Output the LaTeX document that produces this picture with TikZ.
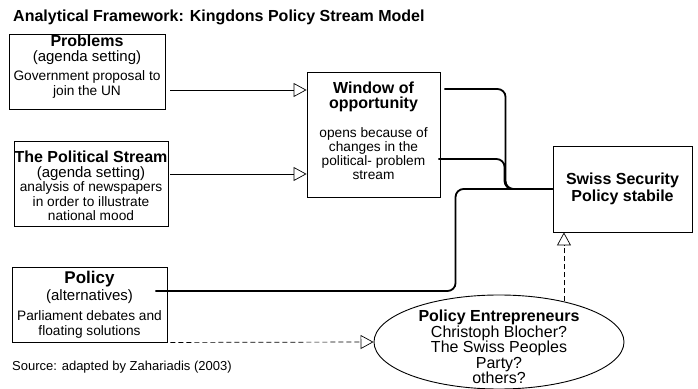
\documentclass[tikz,border=0pt]{standalone}
\usepackage{fontspec}
\setmainfont{Liberation Sans}
\usetikzlibrary{positioning}
\usetikzlibrary{shapes.geometric}
\usetikzlibrary{arrows.meta}
\newcommand{\hd}{\fontsize{16}{14.5}\selectfont\bfseries}
\newcommand{\pr}{\fontsize{15}{14.5}\selectfont}
\newcommand{\bd}{\fontsize{13.7}{14.5}\selectfont}
\newcommand{\bg}{\fontsize{16}{15.5}\selectfont}
\tikzset{
  box/.style={draw, line width=0.9pt, inner sep=0pt},
  txt/.style={align=center, inner sep=0pt, font=\bd},
  flow/.style={line width=1.8pt, rounded corners=8pt},
  arr/.style={line width=0.7pt, -{Triangle[open,length=13pt,width=14pt]}},
  darr/.style={arr, dash pattern=on 5pt off 3pt},
}

\begin{document}
\begin{tikzpicture}[x=1pt,y=1pt]
  \useasboundingbox (0,0) rectangle (698,388);
  \node[anchor=base west, inner sep=0pt] (title) at (13,366)
    {\hd Analytical Framework: Kingdons Policy Stream Model};
  % the three streams
  \node[box, minimum width=156, minimum height=75] (prob) at (87,316.5) {};
  \node[txt, below=1.5pt of prob.north] (probtxt)
    {\hd Problems\\[0.5pt] \pr (agenda setting)\\[4.5pt] Government proposal to\\ join the UN};
  \node[box, minimum width=154, minimum height=85] (polit) at (91,204.5) {};
  \node[txt, below=10.5pt of polit.north] (polittxt)
    {\hd The Political Stream\\ \pr (agenda setting)\\ analysis of newspapers\\ in order to illustrate\\ national mood};
  \node[box, minimum width=155, minimum height=75] (polic) at (89.5,83.5) {};
  \node[txt, below=4pt of polic.north] (polictxt)
    {\fontsize{17}{14.5}\selectfont\bfseries Policy\\[2.5pt] \pr (alternatives)\\[5.5pt] Parliament debates and\\[0.5pt] floating solutions};
  % window and outcome
  \node[box, minimum width=133, minimum height=125] (win) at (373.5,253.5) {};
  \node[txt, font=\fontsize{13.7}{14}\selectfont, below=10.3pt of win.north] (wintxt)
    {\hd Window of\\[0.5pt] \hd opportunity\\[15pt] opens because of\\ changes in the\\ political- problem\\ stream};
  \node[box, txt, minimum width=139, minimum height=86] (swiss) at (622.5,199)
    {\hd Swiss Security\\[1.5pt] \hd Policy stabile};
  \node[draw, ellipse, line width=0.9pt, inner sep=0pt, minimum width=250, minimum height=94] (ent) at (499,46) {};
  \node[txt, font=\bg] (enttxt) at ([yshift=-5pt]ent.center)
    {\hd Policy Entrepreneurs\\ Christoph Blocher?\\ The Swiss Peoples\\ Party?\\ others?};
  % connectors
  \draw[arr] ([xshift=5pt,yshift=-18.5pt]prob.east) coordinate (pa) -- (pa -| win.west);
  \draw[arr] ([xshift=2pt,yshift=9.5pt]polit.east) coordinate (pb) -- (pb -| win.west);
  \draw[flow] ([xshift=4pt,yshift=45.5pt]win.east) -| ([xshift=-47pt]swiss.west) -- (swiss.west);
  \draw[flow] ([xshift=-2pt,yshift=-24.5pt]win.east) -| ([xshift=-48pt]swiss.west) -- (swiss.west);
  \draw[flow] ([xshift=-12pt,yshift=13.5pt]polic.east) -| ([xshift=-97pt]swiss.west) -- (swiss.west);
  \draw[darr] ([xshift=3pt]polic.south east) -- (ent.west);
  \draw[darr] (ent.32) -- (ent.32 |- swiss.south);
  \node[anchor=base west, inner sep=0pt] (src) at (12,18)
    {\fontsize{13}{14}\selectfont Source: adapted by Zahariadis (2003)};
\end{tikzpicture}
\end{document}
